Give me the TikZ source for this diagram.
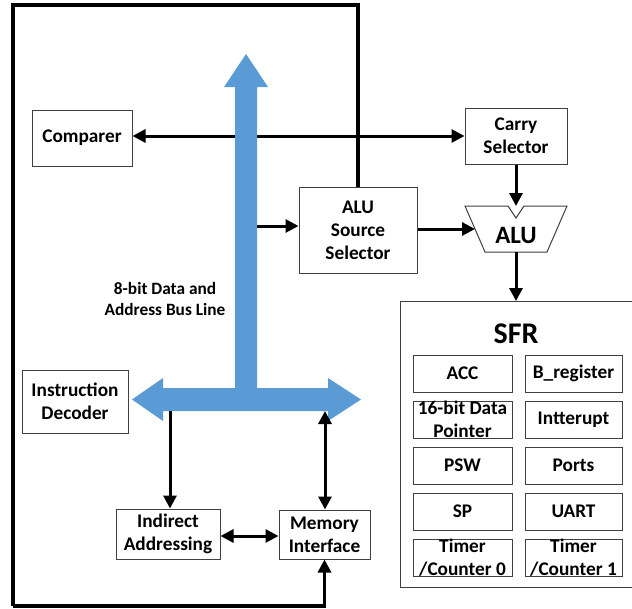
\documentclass[tikz,border=0pt]{standalone}
\usepackage{fontspec}
\setmainfont{Carlito}
\usetikzlibrary{arrows.meta}
\definecolor{busblue}{HTML}{5B9BD5}
\definecolor{boxline}{HTML}{404040}
\tikzset{
  blk/.style={draw=boxline, line width=1pt, fill=white, align=center, inner sep=0pt,
    font=\fontsize{19.3}{23}\selectfont\bfseries},
  conn/.style={line width=3pt, -{Triangle[length=13pt,width=13pt]}},
  dconn/.style={line width=3pt, {Triangle[length=13pt,width=13pt]}-{Triangle[length=13pt,width=13pt]}},
  loopline/.style={line width=3.2pt},
  sfrbox/.style={blk, minimum height=37pt},
}
\begin{document}
\begin{tikzpicture}[x=1pt,y=-1pt]
\useasboundingbox (0,0) rectangle (632,608);

% blocks
\node[blk, minimum width=100pt, minimum height=56pt] (cmp) at (82,138) {Comparer};
\node[blk, minimum width=102pt, minimum height=56pt] (carry) at (516,136) {Carry\\Selector};
\node[blk, minimum width=118pt, minimum height=86pt] (asrc) at (358,230) {ALU\\Source\\Selector};
\node[blk, minimum width=106pt, minimum height=63pt] (dec) at (75,401.5) {Instruction\\Decoder};
\node[blk, minimum width=104pt, minimum height=50pt] (ind) at (168,534) {Indirect\\Addressing};
\node[blk, minimum width=91pt, minimum height=49pt] (mem) at (324.5,534.5) {Memory\\Interface};

% ALU trapezoid
\draw[draw=boxline, line width=1pt, fill=white] (465,206) -- (508,206) -- (516,218) -- (524,206) -- (567,206) -- (547,252) -- (485,252) -- cycle;
\node[font=\fontsize{25}{30}\selectfont\bfseries] (alu) at (516,235) {ALU};
\coordinate (alutop) at (516,206);
\coordinate (aluleft) at (475,229);
\coordinate (alubot) at (516,252);

% SFR container
\draw[draw=boxline, line width=1pt] (632,301) -- (400,301) -- (400,587) -- (632,587);
\coordinate (sfrtop) at (516,301);
\node[font=\fontsize{30}{34}\selectfont\bfseries] (sfr) at (516,334) {SFR};
\node[sfrbox, minimum width=99pt] (acc) at (462.5,373.5) {ACC};
\node[sfrbox, minimum width=97pt] (breg) at (573.5,373.5) {B\_register};
\node[sfrbox, minimum width=99pt] (dptr) at (462.5,419.5) {16-bit Data\\Pointer};
\node[sfrbox, minimum width=97pt] (intr) at (573.5,419.5) {Intterupt};
\node[sfrbox, minimum width=99pt] (psw) at (462.5,465.5) {PSW};
\node[sfrbox, minimum width=97pt] (ports) at (573.5,465.5) {Ports};
\node[sfrbox, minimum width=99pt] (sp) at (462.5,511.5) {SP};
\node[sfrbox, minimum width=97pt] (uart) at (573.5,511.5) {UART};
\node[sfrbox, minimum width=99pt] (tc0) at (462.5,558) {Timer\\/Counter 0};
\node[sfrbox, minimum width=97pt] (tc1) at (573.5,558) {Timer\\/Counter 1};

% outer loop
\coordinate (lt) at (13,5);
\coordinate (lb) at (13,606);
\draw[loopline] (asrc.north) |- (lt) -- (lb);
\draw[loopline, -{Triangle[length=13pt,width=13pt]}] (lb) -| (mem.south);

% comparer / carry line (under the bus)
\draw[dconn] (cmp.east |- carry.west) -- (carry.west);

% bus
\fill[busblue] (246,54) -- (268,87) -- (257,87) -- (257,388) -- (328,388) -- (328,378)
  -- (361,399.5) -- (328,421) -- (328,411) -- (163,411) -- (163,421) -- (132,399.5)
  -- (163,378) -- (163,388) -- (235,388) -- (235,87) -- (224,87) -- cycle;
\node[align=center, font=\fontsize{17.3}{21}\selectfont\bfseries] (buslbl) at (165,298.5) {8-bit Data and\\Address Bus Line};
\coordinate (busR) at (257,226);
\coordinate (busA) at (170,411);
\coordinate (busB) at (325,411);

% connectors
\draw[conn] (busR) -- (asrc.west |- busR);
\draw[conn] (carry.south) -- (alutop);
\draw[conn] (asrc.east |- aluleft) -- (aluleft);
\draw[conn] (alubot) -- (sfrtop);
\draw[conn] (busA) -- (busA |- ind.north);
\draw[dconn] (busB) -- (busB |- mem.north);
\draw[dconn] (ind.east |- 0,536) -- (mem.west |- 0,536);
\end{tikzpicture}
\end{document}
